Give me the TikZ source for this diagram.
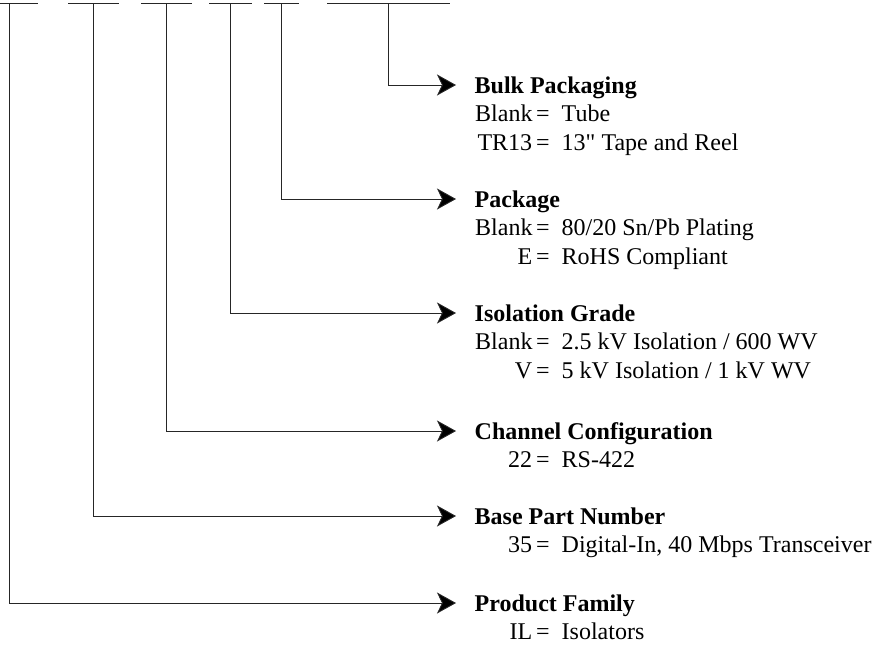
\documentclass[tikz,border=0pt]{standalone}
\usepackage{fontspec}
\setmainfont{Liberation Serif}[Ligatures=TeXOff]
\usepackage{array}
\usetikzlibrary{arrows.meta}
\newcolumntype{R}{>{\raggedleft\arraybackslash}p{57pt}}
\newcommand{\vtab}[1]{\begin{tabular}[t]{@{}R@{\hspace{4pt}=\hspace{12pt}}l@{}}#1\end{tabular}}
\begin{document}
\begin{tikzpicture}[x=1pt,y=-1pt,
  bar/.style={line width=0.9pt, draw=black!85},
  conn/.style={line width=0.9pt, draw=black!85, -{Stealth[length=19pt,width=21pt,inset=5pt,fill=black]}},
  head/.style={anchor=west, inner xsep=18.5pt, inner ysep=0pt, text height=16pt, text depth=0pt, font=\fontsize{24}{28.5}\selectfont\bfseries},
  vals/.style={anchor=base west, inner sep=0pt, font=\fontsize{24}{28.5}\selectfont}]
\useasboundingbox (0,0) rectangle (874,648);

% top bars
\coordinate (b1l) at (0,3);   \coordinate (b1r) at (38,3);
\coordinate (b2l) at (68,3);  \coordinate (b2r) at (119,3);
\coordinate (b3l) at (141,3); \coordinate (b3r) at (192,3);
\coordinate (b4l) at (209,3); \coordinate (b4r) at (252,3);
\coordinate (b5l) at (264,3); \coordinate (b5r) at (299,3);
\coordinate (b6l) at (327,3); \coordinate (b6r) at (450,3);
\draw[bar] (b1l) -- (b1r);
\draw[bar] (b2l) -- (b2r);
\draw[bar] (b3l) -- (b3r);
\draw[bar] (b4l) -- (b4r);
\draw[bar] (b5l) -- (b5r);
\draw[bar] (b6l) -- (b6r);

% drop points
\coordinate (t1) at (9.5,3);
\coordinate (t2) at (93.5,3);
\coordinate (t3) at (166,3);
\coordinate (t4) at (230,3);
\coordinate (t5) at (281,3);
\coordinate (t6) at (388.5,3);

% headings
\node[head] (h6) at (456,85)  {Bulk Packaging};
\node[head] (h5) at (456,199) {Package};
\node[head] (h4) at (456,313) {Isolation Grade};
\node[head] (h3) at (456,431) {Channel Configuration};
\node[head] (h2) at (456,516) {Base Part Number};
\node[head] (h1) at (456,603) {Product Family};

% values
\node[vals] (v6) at (475,121.5) {\vtab{Blank & Tube\\ TR13 & 13" Tape and Reel}};
\node[vals] (v5) at (475,235.5) {\vtab{Blank & 80/20 Sn/Pb Plating\\ E & RoHS Compliant}};
\node[vals] (v4) at (475,349.5) {\vtab{Blank & 2.5 kV Isolation / 600 WV\\ V & 5 kV Isolation / 1 kV WV}};
\node[vals] (v3) at (475,467.5) {\vtab{22 & RS-422}};
\node[vals] (v2) at (475,552.5) {\vtab{35 & Digital-In, 40 Mbps Transceiver}};
\node[vals] (v1) at (475,639.5) {\vtab{IL & Isolators}};

% connectors
\draw[conn] (t6) |- (h6.west);
\draw[conn] (t5) |- (h5.west);
\draw[conn] (t4) |- (h4.west);
\draw[conn] (t3) |- (h3.west);
\draw[conn] (t2) |- (h2.west);
\draw[conn] (t1) |- (h1.west);
\end{tikzpicture}
\end{document}
